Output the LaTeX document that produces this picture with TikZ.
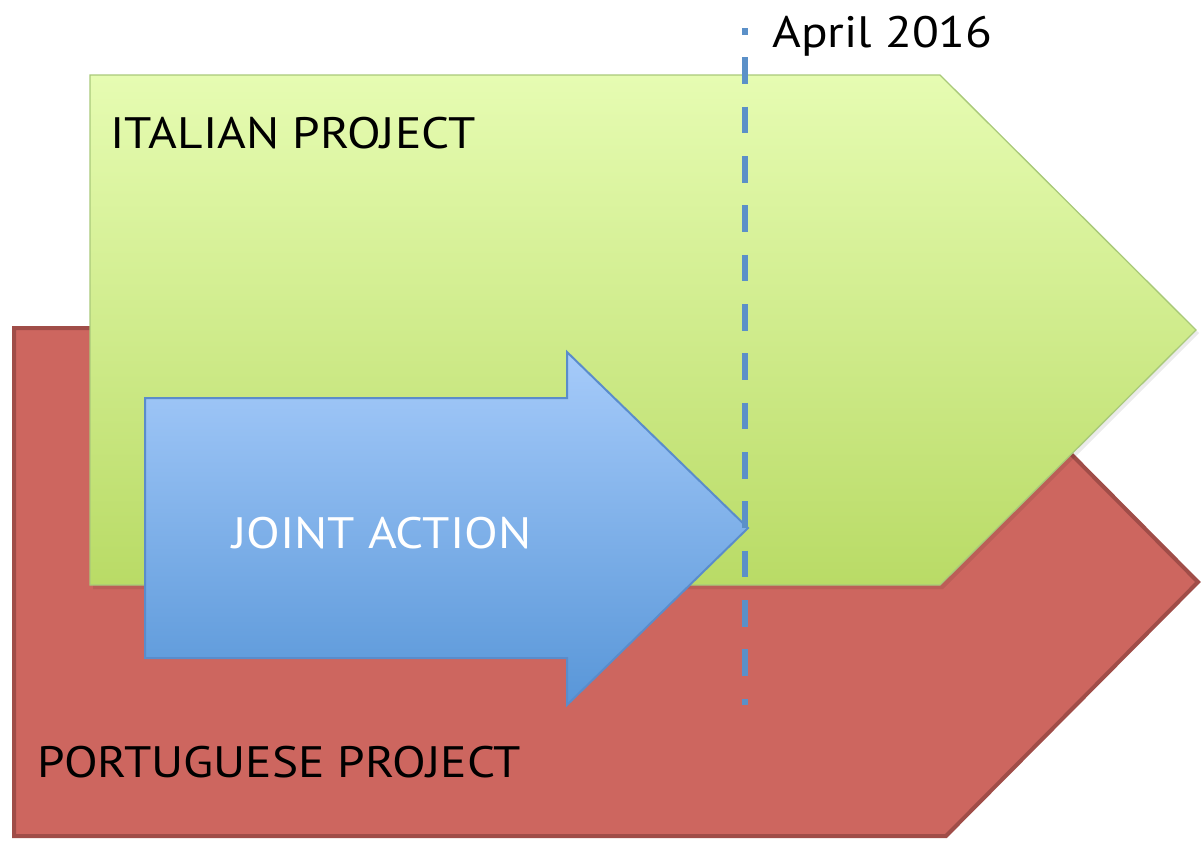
\documentclass[tikz,border=0pt]{standalone}
\usepackage{fontspec}
\setmainfont{PT Sans}[FakeStretch=1.12]
\usepackage{xcolor}
\definecolor{redfill}{HTML}{CD665F}
\definecolor{redline}{HTML}{A04D48}
\definecolor{greentop}{HTML}{E6FCB2}
\definecolor{greenbot}{HTML}{B9DB66}
\definecolor{greenline}{HTML}{A9C97A}
\definecolor{bluetop}{HTML}{A6CBFA}
\definecolor{bluebot}{HTML}{5896D8}
\definecolor{blueline}{HTML}{5A8CCB}
\definecolor{dashblue}{HTML}{5B90C8}

\begin{document}
\begin{tikzpicture}[x=0.75pt, y=-0.75pt,
  label/.style={anchor=base west, inner sep=0pt, font=\fontsize{33}{40}\selectfont}]
\useasboundingbox (0, 0) rectangle (1204, 840);
\draw[redline, fill=redfill, line width=3] (14, 328) -- (946, 328) -- (1198, 582) -- (946, 836) -- (14, 836) -- cycle;
\fill[black, opacity=0.08] (93, 78) -- (943, 78) -- (1199, 333) -- (943, 589) -- (93, 589) -- cycle;
\shade[top color=greentop, bottom color=greenbot, draw=greenline, line width=1] (90, 75) -- (940, 75) -- (1196, 330) -- (940, 585) -- (90, 585) -- cycle;
\shade[top color=bluetop, bottom color=bluebot, draw=blueline, line width=1.5] (145, 398) -- (567, 398) -- (567, 352) -- (748, 528) -- (567, 705) -- (567, 658) -- (145, 658) -- cycle;
\node[label] (date) at (772, 47) {April 2016};
\coordinate (top) at (745, 28);
\coordinate (bottom) at (745, 705);
\draw[dashblue, line width=3.8, dash pattern=on 20 off 17, dash phase=15] (top) -- (bottom);
\node[label] (italy) at (110, 148) {ITALIAN PROJECT};
\node[label, white] (joint) at (232, 548) {JOINT ACTION};
\node[label] (portugal) at (37, 777) {PORTUGUESE PROJECT};
\end{tikzpicture}
\end{document}
